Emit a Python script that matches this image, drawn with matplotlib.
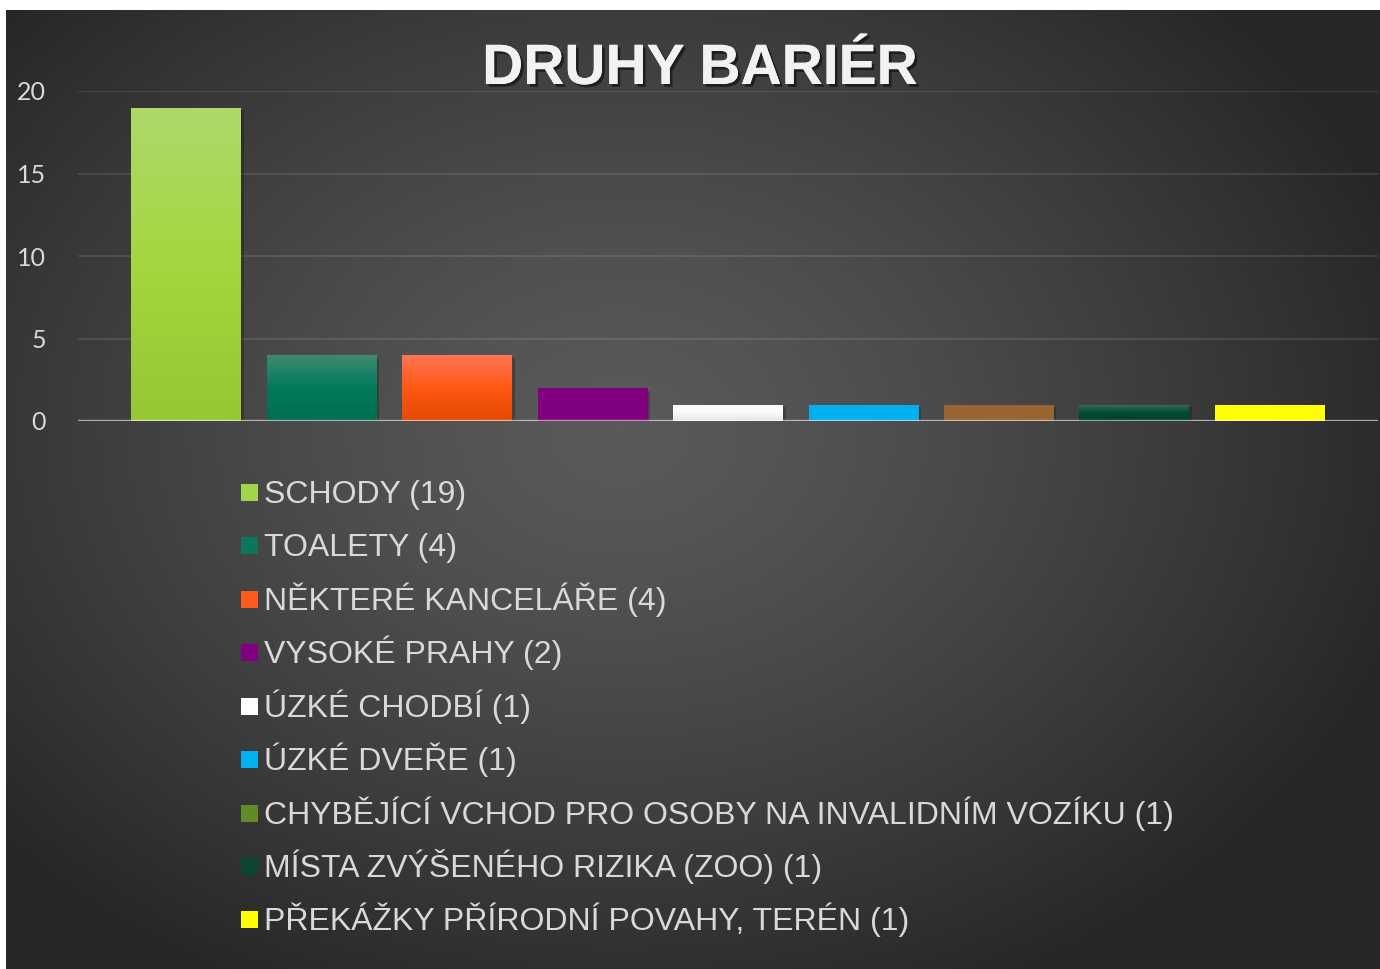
import numpy as np
import matplotlib
matplotlib.use("Agg")
import matplotlib.pyplot as plt
import matplotlib.patheffects as pe
from matplotlib.patches import Rectangle
from matplotlib.colors import LinearSegmentedColormap

# data
categories = ["SCHODY", "TOALETY", "NĚKTERÉ KANCELÁŘE", "VYSOKÉ PRAHY", "ÚZKÉ CHODBÍ",
              "ÚZKÉ DVEŘE", "CHYBĚJÍCÍ VCHOD PRO OSOBY NA INVALIDNÍM VOZÍKU",
              "MÍSTA ZVÝŠENÉHO RIZIKA (ZOO)", "PŘEKÁŽKY PŘÍRODNÍ POVAHY, TERÉN"]
counts = [19, 4, 4, 2, 1, 1, 1, 1, 1]
yticks = [0, 5, 10, 15, 20]

# bar gradients (top, middle, bottom)
bar_grads = [
    ["#aed96a", "#a3d63f", "#97c733"],
    ["#3d8a70", "#007a5c", "#006e52"],
    ["#ff7453", "#ff5714", "#e54b05"],
    ["#800080", "#800080", "#800080"],
    ["#ffffff", "#fafafa", "#e6e6e6"],
    ["#00b0f0", "#00b0f0", "#00b0f0"],
    ["#996633", "#996633", "#996633"],
    ["#3b6e5d", "#004a33", "#00432e"],
    ["#ffff00", "#ffff00", "#ffff00"],
]
legend_colors = ["#a3d44e", "#0e7658", "#ff5a1e", "#800080", "#ffffff",
                 "#00b0f0", "#628b26", "#0b4633", "#ffff00"]

W, H = 1380, 969
fig = plt.figure(figsize=(W / 100, H / 100), dpi=100)
fig.patch.set_facecolor("white")


def fx(px):
    return px / W


def fy(py):
    return 1 - py / H


# dark radial background
bg = fig.add_axes([fx(6), 0, fx(W - 6), 1 - 10 / H])
bg.set_axis_off()
xx, yy = np.meshgrid(np.arange(6, W), np.arange(10, H))
r = np.sqrt(((xx - 620) / 820.0) ** 2 + ((yy - 430) / 620.0) ** 2)
r = np.clip(r, 0, 1)
shade = 0x5a + (0x27 - 0x5a) * r ** 1.3
img = np.dstack([shade / 255.0] * 3)
bg.imshow(img, aspect="auto", extent=(0, 1, 0, 1), interpolation="bilinear")
bg.set_xlim(0, 1)
bg.set_ylim(0, 1)

# main axes
ax = fig.add_axes([fx(78), fy(421), fx(1300), (421 - 91) / H])
ax.patch.set_alpha(0)
x = np.arange(len(counts))
bars = ax.bar(x, counts, width=0.81, color=[g[1] for g in bar_grads], zorder=3)
for b, g in zip(bars, bar_grads):
    b.set_path_effects([pe.SimplePatchShadow(offset=(2, -2), alpha=0.22, shadow_rgbFace="black"),
                        pe.Normal()])
    cmap = LinearSegmentedColormap.from_list("g", [g[2], g[1], g[0]])
    grad = np.linspace(0, 1, 64).reshape(-1, 1)
    im = ax.imshow(grad, cmap=cmap, aspect="auto", origin="lower",
                   extent=(b.get_x(), b.get_x() + b.get_width(), 0, b.get_height()), zorder=4)
    im.set_clip_path(b)

ax.set_xlim(-0.8, 8.8)
ax.set_ylim(0, 20)
ax.set_yticks(yticks)
ax.set_xticks([])
ax.grid(axis="y", color="white", alpha=0.1, lw=1.5, zorder=1)
ax.axhline(0, color="white", alpha=0.55, lw=2.4, zorder=6)
for s in ax.spines.values():
    s.set_visible(False)
ax.tick_params(axis="y", length=0, pad=23, labelsize=18, labelcolor="#d9d9d9")
for t in ax.get_yticklabels():
    t.set_fontfamily("Lato")

# title
fig.text(fx(700), fy(84), "DRUHY BARIÉR", ha="center", va="baseline",
         fontsize=41, fontweight="bold", color="#f2f2f2", family="Liberation Sans",
         path_effects=[pe.withSimplePatchShadow(offset=(2, -2), alpha=0.5, shadow_rgbFace="black"),
                       pe.Normal()])

# legend
row_centers = [492, 545, 599, 652, 706, 759, 813, 866, 919]
for cat, n, col, yc in zip(categories, counts, legend_colors, row_centers):
    fig.patches.append(Rectangle((fx(241), fy(yc + 9)), fx(17), 17 / H,
                                 transform=fig.transFigure, facecolor=col, edgecolor="none"))
    fig.text(fx(264), fy(yc + 11), f"{cat} ({n})", ha="left", va="baseline",
             fontsize=23, color="#d9d9d9", family="Liberation Sans")

fig.savefig("out.png", dpi=100, facecolor="white")
